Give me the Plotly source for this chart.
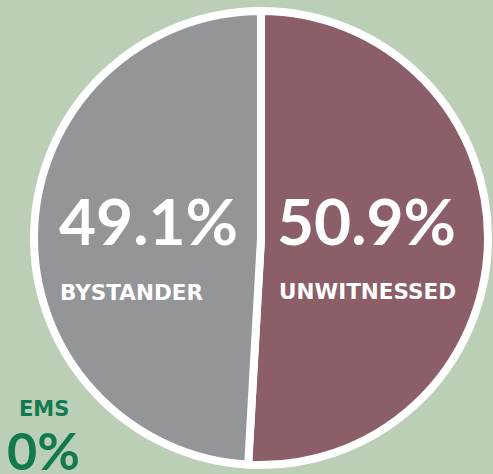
import plotly.graph_objects as go

labels = ["UNWITNESSED", "BYSTANDER", "EMS"]
values = [50.9, 49.1, 0.0]
colors = ["#8b5e68", "#939599", "#137a4e"]

W, H = 493, 474
BG = "#bbcfb7"

fig = go.Figure()
fig.add_trace(go.Pie(
    labels=labels, values=values, sort=False, direction="clockwise", rotation=0,
    marker=dict(colors=colors, line=dict(color="white", width=8)),
    textinfo="none", hoverinfo="label+percent", showlegend=False,
    domain=dict(x=[34 / W, 488 / W], y=[9 / H, 463 / H]),
))

def px(x, y):
    return x / W, 1 - y / H

def ann(text, cx, cy, size, color, family="Lato"):
    x, y = px(cx, cy)
    return dict(x=x, y=y, xref="paper", yref="paper", xanchor="center", yanchor="middle",
                showarrow=False, text=text,
                font=dict(family=family, size=size, color=color, weight=700))

anns = []
big = [(1, 148, 220, 131, 292), (0, 366, 220, 367, 291)]
for i, bx, by, lx, ly in big:
    anns.append(ann(f"{values[i]}%", bx, by, 64, "white"))
    anns.append(ann(labels[i], lx, ly, 21.5, "white", "DejaVu Sans"))
anns.append(ann(labels[2], 44, 409, 21, colors[2], "DejaVu Sans"))
anns.append(ann(f"{values[2]:g}%", 43, 450, 52, colors[2]))

fig.update_layout(width=W, height=H, margin=dict(l=0, r=0, t=0, b=0),
                  paper_bgcolor=BG, plot_bgcolor=BG, annotations=anns)
fig.write_html("out.html", config={"displayModeBar": False},
               post_script="document.body.style.margin='0';")
